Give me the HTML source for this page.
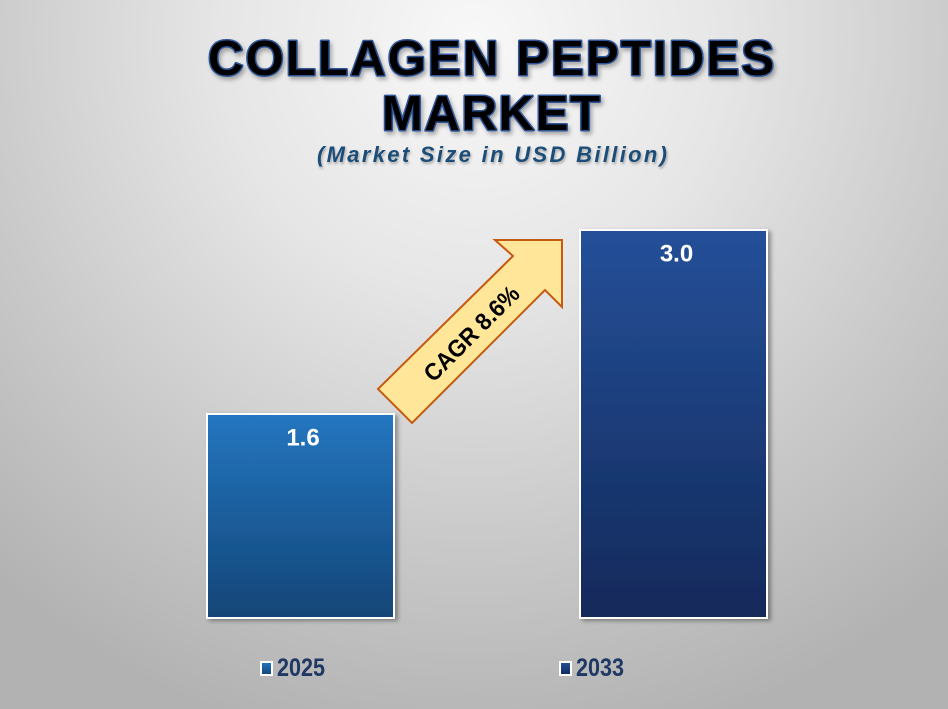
<!DOCTYPE html>
<html>
<head>
<meta charset="utf-8">
<style>
html,body{margin:0;padding:0;width:948px;height:709px;overflow:hidden;}
svg{display:block;}
text{font-family:"Liberation Sans",Arial,sans-serif;}
</style>
</head>
<body>
<svg width="948" height="709" viewBox="0 0 948 709" xmlns="http://www.w3.org/2000/svg">
  <defs>
    <radialGradient id="bg" cx="474" cy="40" r="720" gradientUnits="userSpaceOnUse">
      <stop offset="0" stop-color="#f8f8f8"/>
      <stop offset="0.35" stop-color="#e6e6e6"/>
      <stop offset="0.7" stop-color="#c9c9c9"/>
      <stop offset="1" stop-color="#b2b2b2"/>
    </radialGradient>
    <linearGradient id="b1" x1="0" y1="0" x2="0" y2="1">
      <stop offset="0" stop-color="#2476c0"/>
      <stop offset="1" stop-color="#134577"/>
    </linearGradient>
    <linearGradient id="b2" x1="0" y1="0" x2="0" y2="1">
      <stop offset="0" stop-color="#255099"/>
      <stop offset="1" stop-color="#12295a"/>
    </linearGradient>
    <filter id="sh" x="-10%" y="-10%" width="130%" height="130%">
      <feDropShadow dx="3" dy="2" stdDeviation="2" flood-color="#000" flood-opacity="0.35"/>
    </filter>
    <filter id="tsh" x="-10%" y="-20%" width="120%" height="150%">
      <feDropShadow dx="2" dy="3" stdDeviation="2" flood-color="#000" flood-opacity="0.3"/>
    </filter>
    <filter id="ssh" x="-10%" y="-20%" width="120%" height="150%">
      <feDropShadow dx="1" dy="2" stdDeviation="1.2" flood-color="#000" flood-opacity="0.3"/>
    </filter>
  </defs>

  <rect x="0" y="0" width="948" height="709" fill="url(#bg)"/>

  <!-- Title -->
  <g filter="url(#tsh)" font-weight="bold" font-size="49" text-anchor="middle" fill="#000" stroke="#2f5597" stroke-width="3" style="paint-order:stroke" stroke-linejoin="round">
    <text x="491" y="75" textLength="566" lengthAdjust="spacing">COLLAGEN PEPTIDES</text>
    <text x="491" y="130" textLength="218" lengthAdjust="spacing">MARKET</text>
  </g>
  <text x="492" y="162" filter="url(#ssh)" font-size="22" font-weight="bold" font-style="italic" fill="#1f4e79" text-anchor="middle" textLength="350" lengthAdjust="spacing">(Market Size in USD Billion)</text>

  <!-- Bars -->
  <rect x="207" y="414" width="187" height="204" fill="url(#b1)" stroke="#ffffff" stroke-width="2" filter="url(#sh)"/>
  <rect x="580" y="230" width="187" height="388" fill="url(#b2)" stroke="#ffffff" stroke-width="2" filter="url(#sh)"/>

  <text x="303" y="445.5" font-size="24" font-weight="bold" fill="#ffffff" text-anchor="middle">1.6</text>
  <text x="676.5" y="261.5" font-size="24" font-weight="bold" fill="#ffffff" text-anchor="middle">3.0</text>

  <!-- Arrow -->
  <polygon points="378,389 513,256 495,240 562,240 562,307 545,290 412,423" fill="#ffe699" stroke="#c55a11" stroke-width="2" stroke-linejoin="miter"/>
  <text x="472" y="334" transform="rotate(-45 472 334)" font-size="24" font-weight="bold" fill="#000" text-anchor="middle" dominant-baseline="central" textLength="124" lengthAdjust="spacingAndGlyphs">CAGR 8.6%</text>

  <!-- Legend -->
  <rect x="261" y="662" width="11" height="13" fill="url(#b1)" stroke="#ffffff" stroke-width="2"/>
  <text x="277" y="676" font-size="25" font-weight="bold" fill="#203864" textLength="48" lengthAdjust="spacingAndGlyphs">2025</text>
  <rect x="560" y="662" width="11" height="13" fill="url(#b2)" stroke="#ffffff" stroke-width="2"/>
  <text x="576" y="676" font-size="25" font-weight="bold" fill="#203864" textLength="48" lengthAdjust="spacingAndGlyphs">2033</text>
</svg>
</body>
</html>
